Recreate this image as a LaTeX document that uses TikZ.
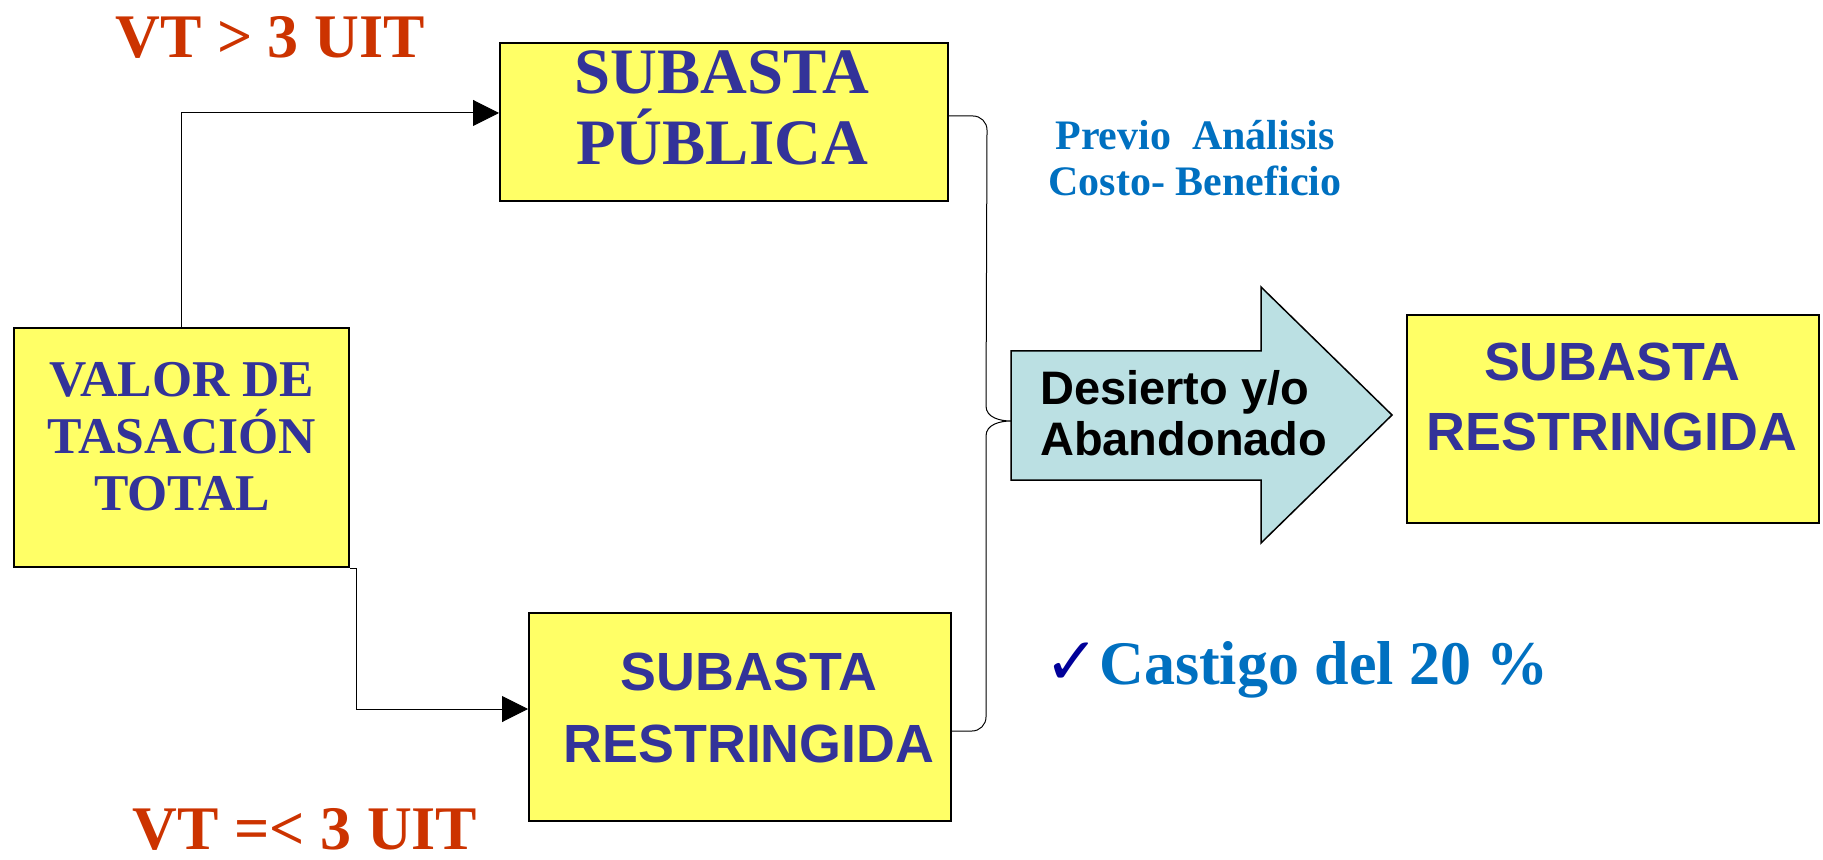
\documentclass[tikz,border=0pt]{standalone}
\usepackage{fontspec}
\setmainfont{Liberation Serif}
\setsansfont{Liberation Sans}
\newfontfamily\dejavu{DejaVu Sans}
\usetikzlibrary{arrows.meta}
\definecolor{amarillo}{HTML}{FFFF66}
\definecolor{azul}{HTML}{333399}
\definecolor{rojo}{HTML}{CC3300}
\definecolor{celeste}{HTML}{0070C0}
\definecolor{turquesa}{HTML}{BBE0E3}
\definecolor{marino}{HTML}{000099}
\begin{document}
\begin{tikzpicture}[x=0.5pt, y=-0.5pt,
  caja/.style={draw, line width=1pt, fill=amarillo, inner sep=0pt},
  linea/.style={line width=0.5pt},
  flechita/.style={linea, -{Triangle[length=13pt,width=13pt]}},
  azultxt/.style={text=azul, align=center},
  rojotxt/.style={text=rojo, inner sep=0pt, font=\bfseries\fontsize{31}{31}\selectfont}]
  \useasboundingbox (0,0) rectangle (1823,860);
  \node [caja, minimum width=167.5pt, minimum height=119.5pt] (valor) at (181.5,447.5) {};
  \node [caja, minimum width=224pt, minimum height=79pt] (publica) at (724,122) {};
  \node [caja, minimum width=211pt, minimum height=104pt] (restr) at (740,717) {};
  \node [caja, minimum width=206pt, minimum height=104pt] (final) at (1613,419) {};
  \node [azultxt, font=\bfseries\fontsize{25.8}{28.5}\selectfont] (valortxt) at (182,437) {VALOR DE\\TASACIÓN\\TOTAL};
  \node [azultxt, font=\bfseries\fontsize{32.4}{35.5}\selectfont] (publicatxt) at (722,108) {SUBASTA\\PÚBLICA};
  \node [azultxt, font=\sffamily\bfseries\fontsize{26.9}{36}\selectfont] (restrtxt) at (749,708) {SUBASTA\\RESTRINGIDA};
  \node [azultxt, font=\sffamily\bfseries\fontsize{26.9}{35}\selectfont] (finaltxt) at (1612,397) {SUBASTA\\RESTRINGIDA};
  \draw [line width=0.75pt, fill=turquesa] (1011,351) -- (1261,351) -- (1261,287) -- (1392,415) -- (1261,543) -- (1261,480) -- (1011,480) -- cycle;
  \coordinate (flecha) at (1011,421);
  \coordinate (llave) at (986,0);
  \node [font=\sffamily\bfseries\fontsize{23.5}{25.5}\selectfont, align=left, anchor=west] (desierto) at (1033,413) {Desierto y/o\\Abandonado};
  \node [rojotxt] (mayor) at (270,37) {VT > 3 UIT};
  \node [rojotxt] (menor) at (305,829) {VT =< 3 UIT};
  \node [text=celeste, font=\bfseries\fontsize{21}{23.3}\selectfont, align=center] (previo) at (1195,158) {Previo\ \ Análisis\\Costo- Beneficio};
  \node [text=celeste, font=\bfseries\fontsize{31}{31}\selectfont, anchor=base west] (castigo) at (1037,684) {{\dejavu\color{marino}\fontsize{33}{33}\selectfont ✓}Castigo del 20 \%};
  \draw [flechita] (valor.north) |- ([yshift=4.5pt]publica.west);
  \draw [flechita] (valor.south east) -- ++(6,0) |- ([yshift=4pt]restr.west);
  \draw [linea] ([yshift=3pt]publica.east) -- ++(24,0) to[out=0,in=90] ++(14,14)
    -- ([yshift=7.5pt]llave |- flecha) to[out=-90,in=180] (flecha)
    to[out=180,in=90] ([yshift=-7.5pt]llave |- flecha) -- (llave |- restr.east)
    to[out=-90,in=0] ++(-14,14) -- ([yshift=-7pt]restr.east);
\end{tikzpicture}
\end{document}
